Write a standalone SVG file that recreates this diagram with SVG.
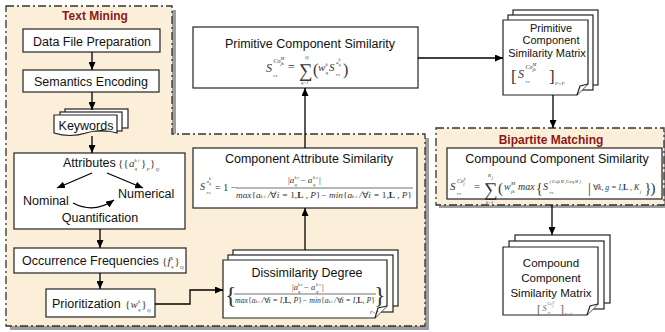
<svg xmlns="http://www.w3.org/2000/svg" width="665" height="332" viewBox="0 0 665 332">
  <defs>
    <marker id="ah" markerUnits="userSpaceOnUse" markerWidth="8" markerHeight="7" refX="8" refY="3.5" orient="auto">
      <path d="M0,0 L8,3.5 L0,7 z" fill="#000"/>
    </marker>
    <style>
      .lbl{font-family:"Liberation Sans",Arial,sans-serif;font-size:12.5px;fill:#111}
      .sm{font-size:11px}
      .mid{text-anchor:middle}
      .ttl{font-family:"Liberation Sans",Arial,sans-serif;font-weight:bold;font-size:12px;fill:#8b1a1a;text-anchor:middle}
      .m{font-family:"Liberation Serif","Times New Roman",serif;font-style:italic;fill:#333}
      .n{font-style:normal}
      .g{fill:#666}
      .box{fill:#fff;stroke:#222;stroke-width:1.2}
      .region{fill:#fbefd9;stroke:#333;stroke-width:1.3;stroke-dasharray:8 3 2 3}
      .shadow{fill:#9d9d9d}
      .conn{fill:none;stroke:#000;stroke-width:1.3;marker-end:url(#ah)}
      .rule{stroke:#333;stroke-width:0.7}
    </style>
  </defs>

  <!-- group regions -->
  <g id="text-mining-region">
    <polygon class="shadow" points="10,10 176,10 176,138 429,138 429,330 10,330"/>
    <polygon class="region" points="6,6 172,6 172,134 425,134 425,326 6,326"/>
    <text class="ttl" x="95" y="20">Text Mining</text>
  </g>
  <g id="bipartite-region">
    <rect class="shadow" x="439" y="131" width="226" height="77"/>
    <rect class="region" x="436" y="128" width="228" height="77"/>
    <text class="ttl" x="551" y="144">Bipartite Matching</text>
  </g>

  <g id="data-file-preparation">
    <rect class="box" x="23" y="29" width="137" height="23"/>
    <text class="lbl mid" x="92" y="46">Data File Preparation</text>
  </g>

  <g id="semantics-encoding">
    <rect class="box" x="23" y="70" width="136" height="22"/>
    <text class="lbl mid" x="91" y="86">Semantics Encoding</text>
  </g>

  <g id="keywords">
    <rect class="box" x="65" y="109" width="63" height="19"/>
    <rect class="box" x="60" y="112" width="62" height="19"/>
    <path class="box" d="M54,115 H117 V133 Q101,128 86,133 Q70,138 54,133 Z"/>
    <text class="lbl mid" x="86" y="130">Keywords</text>
  </g>

  <g id="attributes">
    <rect class="box" x="14" y="153" width="171" height="76"/>
    <text class="lbl" x="63" y="167">Attributes</text>
    <text class="m n" x="118" y="167" font-size="11">{{</text>
    <text class="m" x="129" y="167" font-size="11">a</text>
    <text class="m" x="134.5" y="162" font-size="5">k i</text>
    <text class="m" x="134.5" y="170" font-size="5">q</text>
    <text class="m n" x="141" y="167" font-size="11">}</text>
    <text class="m" x="146.5" y="171" font-size="5">P</text>
    <text class="m n" x="150" y="167" font-size="11">}</text>
    <text class="m" x="155.5" y="171" font-size="5">Q</text>
    <text class="lbl" x="23" y="205">Nominal</text>
    <text class="lbl" x="118" y="198">Numerical</text>
    <text class="lbl mid" x="100" y="222">Quantification</text>
  </g>

  <g id="occurrence-frequencies">
    <rect class="box" x="14" y="248" width="172" height="25"/>
    <text class="lbl" x="22" y="265">Occurrence Frequencies</text>
    <text class="m n" x="162" y="265" font-size="11">{</text>
    <text class="m" x="167.5" y="265" font-size="11">f</text>
    <text class="m" x="171" y="260" font-size="5">k</text>
    <text class="m" x="171" y="268" font-size="5">q</text>
    <text class="m n" x="174.5" y="265" font-size="11">}</text>
    <text class="m" x="180" y="269" font-size="5">Q</text>
  </g>

  <g id="prioritization">
    <rect class="box" x="46" y="289" width="109" height="28"/>
    <text class="lbl" x="52" y="308">Prioritization</text>
    <text class="m n" x="125" y="308" font-size="11">{</text>
    <text class="m" x="130.5" y="308" font-size="11">w</text>
    <text class="m" x="138" y="303" font-size="5">k</text>
    <text class="m" x="138" y="311" font-size="5">q</text>
    <text class="m n" x="141.5" y="308" font-size="11">}</text>
    <text class="m" x="147" y="312" font-size="5">Q</text>
  </g>

  <g id="dissimilarity-degree">
    <rect class="box" x="233" y="250" width="165" height="56"/>
    <rect class="box" x="228" y="255" width="165" height="57"/>
    <path class="box" d="M223,260 H387 V306 L375,318 H223 Z"/>
    <path class="box" d="M375,318 L378,308 L387,306"/>
    <text class="lbl mid" x="307" y="277">Dissimilarity Degree</text>
    <text class="m n" x="225" y="303" font-size="24" font-weight="lighter">{</text>
    <text class="m n" x="374" y="303" font-size="24" font-weight="lighter">}</text>
    <text class="m" x="292" y="290" font-size="8.5"><tspan class="n">|</tspan>a</text>
    <text class="m" x="298" y="286" font-size="4.5">k r</text>
    <text class="m" x="298" y="293" font-size="4.5">q</text>
    <text class="m" x="304" y="290" font-size="8.5"><tspan class="n">− </tspan>a</text>
    <text class="m" x="316" y="286" font-size="4.5">k s</text>
    <text class="m" x="316" y="293" font-size="4.5">q</text>
    <text class="m n" x="322" y="290" font-size="8.5">|</text>
    <line class="rule" x1="234" y1="294" x2="376" y2="294"/>
    <text class="m" x="235" y="303" font-size="8" textLength="140" lengthAdjust="spacingAndGlyphs">max<tspan class="n">{</tspan>a<tspan font-size="4">k i</tspan> /<tspan class="n">∀</tspan>i = I,<tspan class="n" font-weight="bold">L</tspan>, P<tspan class="n">}</tspan>− min<tspan class="n">{</tspan>a<tspan font-size="4">k i</tspan> /<tspan class="n">∀</tspan>i = I,<tspan class="n" font-weight="bold">L</tspan>, P<tspan class="n">}</tspan></text>
    <text class="m" x="370" y="314" font-size="4.5" fill="#777">P×P</text>
  </g>

  <g id="component-attribute-similarity">
    <rect class="box" x="193" y="148" width="224" height="60"/>
    <text class="lbl mid" x="309" y="163">Component Attribute Similarity</text>
    <text class="m" x="200" y="190" font-size="10">S</text>
    <text class="m" x="206.5" y="183" font-size="5">a</text>
    <text class="m" x="209" y="180" font-size="4">k</text>
    <text class="m" x="209" y="184.5" font-size="4">q</text>
    <text class="m" x="206.5" y="193.5" font-size="5">rs</text>
    <text class="m n" x="215" y="191" font-size="10">= 1 −</text>
    <text class="m" x="288" y="183" font-size="9"><tspan class="n">|</tspan>a</text>
    <text class="m" x="294.5" y="179" font-size="4.5">k r</text>
    <text class="m" x="294.5" y="186" font-size="4.5">q</text>
    <text class="m" x="300.5" y="183" font-size="9"><tspan class="n">− </tspan>a</text>
    <text class="m" x="313" y="179" font-size="4.5">k s</text>
    <text class="m" x="313" y="186" font-size="4.5">q</text>
    <text class="m n" x="319" y="183" font-size="9">|</text>
    <line class="rule" x1="236" y1="188" x2="413" y2="188"/>
    <text class="m" x="236" y="198" font-size="8.5" textLength="176" lengthAdjust="spacingAndGlyphs">max<tspan class="n">{</tspan>a<tspan font-size="4.5">k i</tspan> /<tspan class="n">∀</tspan>i = <tspan class="n">1</tspan>,<tspan class="n" font-weight="bold">L</tspan> , P<tspan class="n">}</tspan>− min<tspan class="n">{</tspan>a<tspan font-size="4.5">k i</tspan> /<tspan class="n">∀</tspan>i = <tspan class="n">1</tspan>,<tspan class="n" font-weight="bold">L</tspan> , P<tspan class="n">}</tspan></text>
  </g>

  <g id="primitive-component-similarity">
    <rect class="box" x="193" y="27" width="225" height="61"/>
    <text class="lbl mid" x="310" y="48">Primitive Component Similarity</text>
    <text class="m" x="266" y="72" font-size="12">S</text>
    <text class="m" x="273.5" y="63" font-size="6">Co</text>
    <text class="m" x="280.5" y="60" font-size="4.5">M</text>
    <text class="m" x="280.5" y="65" font-size="4.5">jk</text>
    <text class="m" x="273.5" y="76.5" font-size="5">rs</text>
    <text class="m n" x="288" y="71" font-size="12">=</text>
    <text class="m n" x="299" y="77" font-size="19">∑</text>
    <text class="m" x="305" y="59" font-size="5">Q</text>
    <text class="m" x="301" y="84" font-size="4.5">q=1</text>
    <text class="m n" x="313" y="75" font-size="16" font-weight="lighter">(</text>
    <text class="m" x="318" y="71" font-size="11">w</text>
    <text class="m" x="325.5" y="66" font-size="5">k</text>
    <text class="m" x="325.5" y="74" font-size="5">q</text>
    <text class="m" x="329" y="71" font-size="11">S</text>
    <text class="m" x="336" y="63.5" font-size="5">a</text>
    <text class="m" x="338.5" y="61" font-size="4">k</text>
    <text class="m" x="338.5" y="65.5" font-size="4">q</text>
    <text class="m" x="336" y="75.5" font-size="5">rs</text>
    <text class="m n" x="343" y="75" font-size="16" font-weight="lighter">)</text>
  </g>

  <g id="primitive-similarity-matrix">
    <rect class="box" x="513" y="10" width="85" height="75"/>
    <rect class="box" x="508" y="15" width="85" height="75"/>
    <path class="box" d="M503,20 H588 V84 L577,95 H503 Z"/>
    <path class="box" d="M577,95 L580,86 L588,84"/>
    <text class="lbl sm mid" x="551" y="32">Primitive</text>
    <text class="lbl sm mid" x="551" y="44">Component</text>
    <text class="lbl sm mid" x="547" y="57">Similarity Matrix</text>
    <text class="m n" x="511" y="82" font-size="17" font-weight="lighter">[</text>
    <text class="m" x="518" y="78" font-size="12">S</text>
    <text class="m" x="525.5" y="69" font-size="6">Co</text>
    <text class="m" x="532.5" y="66" font-size="4.5">M</text>
    <text class="m" x="532.5" y="71" font-size="4.5">jk</text>
    <text class="m" x="525.5" y="82.5" font-size="5">rs</text>
    <text class="m n" x="549" y="82" font-size="17" font-weight="lighter">]</text>
    <text class="m" x="555" y="85" font-size="5">P×P</text>
  </g>

  <g id="compound-component-similarity">
    <rect class="box" x="447" y="148" width="215" height="51"/>
    <text class="lbl mid" x="557" y="163">Compound Component Similarity</text>
    <text class="m" x="450" y="190" font-size="11">S</text>
    <text class="m" x="457" y="183" font-size="5.5">Co</text>
    <text class="m" x="463.5" y="180.5" font-size="4">F</text>
    <text class="m" x="463.5" y="185" font-size="4">j</text>
    <text class="m" x="457" y="194.5" font-size="5">rs</text>
    <text class="m n" x="474" y="190" font-size="11">=</text>
    <text class="m n" x="484" y="196" font-size="19">∑</text>
    <text class="m" x="488" y="177" font-size="5">K</text>
    <text class="m" x="491.8" y="179" font-size="4">j</text>
    <text class="m" x="486" y="204" font-size="4.5">k=1</text>
    <text class="m n" x="498" y="193" font-size="15" font-weight="lighter">(</text>
    <text class="m" x="504" y="190" font-size="10">w</text>
    <text class="m" x="511" y="185" font-size="5">M</text>
    <text class="m" x="511" y="193" font-size="5">jk</text>
    <text class="m" x="518" y="190" font-size="10">max</text>
    <text class="m n" x="536" y="193" font-size="14">{</text>
    <text class="m" x="543" y="190" font-size="10">S</text>
    <text class="m" x="549.5" y="183" font-size="4.5">( Co<tspan font-size="3.5">jk M</tspan> ,Co<tspan font-size="3.5">rg M</tspan> )</text>
    <text class="m" x="549.5" y="194" font-size="5">rs</text>
    <text class="m n" x="588" y="193" font-size="14">|</text>
    <text class="m" x="593" y="190" font-size="7.8"><tspan class="n">∀</tspan>k, g = I,<tspan class="n" font-weight="bold">L</tspan> , K</text>
    <text class="m" x="640" y="193" font-size="4.5">j</text>
    <text class="m n" x="644.5" y="193" font-size="14">}</text>
    <text class="m n" x="650.5" y="193" font-size="15" font-weight="lighter">)</text>
  </g>

  <g id="compound-similarity-matrix">
    <rect class="box" x="515" y="235" width="95" height="68"/>
    <rect class="box" x="509" y="241" width="95" height="68"/>
    <path class="box" d="M503,247 H598 V304 L587,315 H503 Z"/>
    <path class="box" d="M587,315 L590,306 L598,304"/>
    <text class="lbl mid" x="551" y="267" style="font-size:11.5px">Compound</text>
    <text class="lbl mid" x="551" y="282" style="font-size:11.5px">Component</text>
    <text class="lbl mid" x="551" y="297" style="font-size:11.5px">Similarity Matrix</text>
    <text class="m n g" x="537" y="314" font-size="12" font-weight="lighter">[</text>
    <text class="m g" x="542.5" y="311" font-size="8">S</text>
    <text class="m g" x="547.5" y="305" font-size="4">Co</text>
    <text class="m g" x="552.5" y="303.5" font-size="3.5">F</text>
    <text class="m g" x="552.5" y="307" font-size="3.5">j</text>
    <text class="m g" x="547.5" y="313.5" font-size="4">rs</text>
    <text class="m n g" x="560" y="314" font-size="12" font-weight="lighter">]</text>
    <text class="m g" x="564.5" y="316" font-size="4">P×P</text>
  </g>

  <!-- connectors -->
  <g id="connectors">
    <line class="conn" x1="92" y1="52" x2="92" y2="70"/>
    <line class="conn" x1="92" y1="92" x2="92" y2="110"/>
    <line class="conn" x1="92" y1="136" x2="92" y2="153"/>
    <line class="conn" x1="92" y1="173" x2="57" y2="188"/>
    <line class="conn" x1="107" y1="173" x2="143" y2="188"/>
    <path class="conn" d="M73,203 Q94,214 114,200"/>
    <line class="conn" x1="100" y1="229" x2="100" y2="248"/>
    <line class="conn" x1="100" y1="273" x2="100" y2="289"/>
    <polyline class="conn" points="155,304 190,304 190,290 223,290"/>
    <line class="conn" x1="305" y1="250" x2="305" y2="208"/>
    <line class="conn" x1="305" y1="148" x2="305" y2="88"/>
    <line class="conn" x1="418" y1="58" x2="503" y2="58"/>
    <line class="conn" x1="553" y1="95" x2="553" y2="128"/>
    <line class="conn" x1="552" y1="205" x2="552" y2="235"/>
  </g>
</svg>
